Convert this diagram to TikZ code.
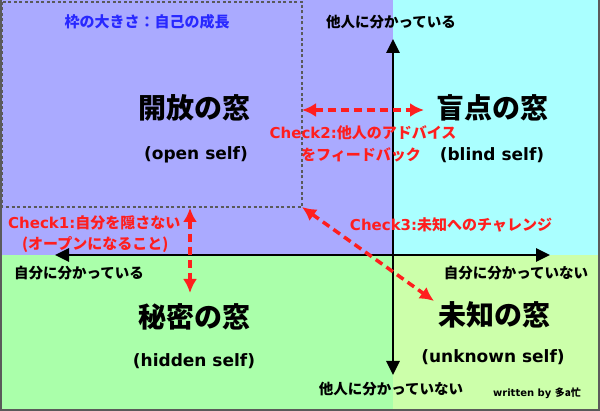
\documentclass[tikz,border=0pt]{standalone}
\usepackage{fontspec}
\setmainfont{DejaVu Sans}
\newfontfamily\cjk{Noto Sans CJK JP}
\newcommand{\jp}[1]{{\cjk\bfseries #1}}
\usetikzlibrary{arrows.meta}
\definecolor{qlav}{RGB}{170,170,255}
\definecolor{qcyan}{RGB}{170,255,255}
\definecolor{qgreen}{RGB}{170,255,170}
\definecolor{qyel}{RGB}{204,255,170}
\definecolor{qblue}{RGB}{40,40,255}
\definecolor{qred}{RGB}{255,30,30}
\definecolor{qgray}{RGB}{90,90,90}
\begin{document}
\begin{tikzpicture}[x=1pt,y=-1pt,
  title/.style={font=\fontsize{28}{30}\selectfont\bfseries, inner sep=0pt},
  sub/.style={font=\fontsize{17}{19}\selectfont\bfseries, inner sep=0pt},
  axlabel/.style={font=\fontsize{14.5}{16}\selectfont\bfseries, inner sep=0pt},
  redtext/.style={font=\fontsize{15}{17}\selectfont\bfseries, text=qred, inner sep=0pt, align=center},
  axis/.style={line width=2.8pt, -{Triangle[length=14pt,width=13pt]}},
  redarrow/.style={qred, line width=3.5pt, dash pattern=on 8pt off 5pt, {Latex[length=14pt,width=14pt]}-{Latex[length=14pt,width=14pt]}}]
\useasboundingbox (0,0) rectangle (600,411);
% quadrants
\fill[qlav] (0,0) rectangle (393,255);
\fill[qcyan] (393,0) rectangle (600,255);
\fill[qgreen] (0,255) rectangle (393,411);
\fill[qyel] (393,255) rectangle (600,411);
\draw[qgray, line width=2pt] (1,0) -- (1,411);
\draw[qgray, line width=2pt] (0,410) -- (600,410);
\draw[qgray, line width=2pt] (599,0) -- (599,411);
% frame box
\draw[qgray, line width=1.5pt, dash pattern=on 3pt off 2.5pt] (2,2) rectangle (302,207);
% axes
\coordinate (c) at (393,255);
\coordinate (up) at (393,39);
\coordinate (down) at (393,375);
\coordinate (left) at (55,255);
\coordinate (right) at (550,255);
\draw[axis] (c) -- (up);
\draw[axis] (c) -- (down);
\draw[axis] (c) -- (left);
\draw[axis] (c) -- (right);
% axis labels
\node[axlabel] (ot) at (391,22) {\jp{他人に分かっている}};
\node[axlabel] (ob) at (391,389) {\jp{他人に分かっていない}};
\node[axlabel] (sl) at (79,273) {\jp{自分に分かっている}};
\node[axlabel] (sr) at (516,273) {\jp{自分に分かっていない}};
% frame label
\node[font=\fontsize{15}{17}\selectfont\bfseries, text=qblue, inner sep=0pt] (fl) at (147,22) {\jp{枠の大きさ：自己の成長}};
% quadrant titles
\node[title] (t1) at (194,108) {\jp{開放の窓}};
\node[sub] (s1) at (196,155) {(open self)};
\node[title] (t2) at (492,108) {\jp{盲点の窓}};
\node[sub] (s2) at (492,155) {(blind self)};
\node[title] (t3) at (194,317) {\jp{秘密の窓}};
\node[sub] (s3) at (194,361) {(hidden self)};
\node[title] (t4) at (494,315) {\jp{未知の窓}};
\node[sub] (s4) at (493,357) {(unknown self)};
% checks
\node[redtext, anchor=west] (ch1a) at (8,223) {Check1:\jp{自分を隠さない}};
\node[redtext, anchor=west] (ch1b) at (22,245) {\jp{(オープンになること)}};
\node[redtext] (ch2a) at (363,133) {Check2:\jp{他人のアドバイス}};
\node[redtext] (ch2b) at (361,155) {\jp{をフィードバック}};
\node[redtext] (ch3) at (451,225) {Check3:\jp{未知へのチャレンジ}};
% red arrows
\coordinate (a1) at (190,208);
\coordinate (b1) at (190,293);
\coordinate (a2) at (302,110);
\coordinate (b2) at (424,110);
\coordinate (a3) at (302,207);
\coordinate (b3) at (434,301);
\draw[redarrow] (a1) -- (b1);
\draw[redarrow] (a2) -- (b2);
\draw[redarrow] (a3) -- (b3);
% credit
\node[font=\fontsize{10}{12}\selectfont\bfseries, inner sep=0pt] (cr) at (537,393) {written by \jp{多a忙}};
\end{tikzpicture}
\end{document}
